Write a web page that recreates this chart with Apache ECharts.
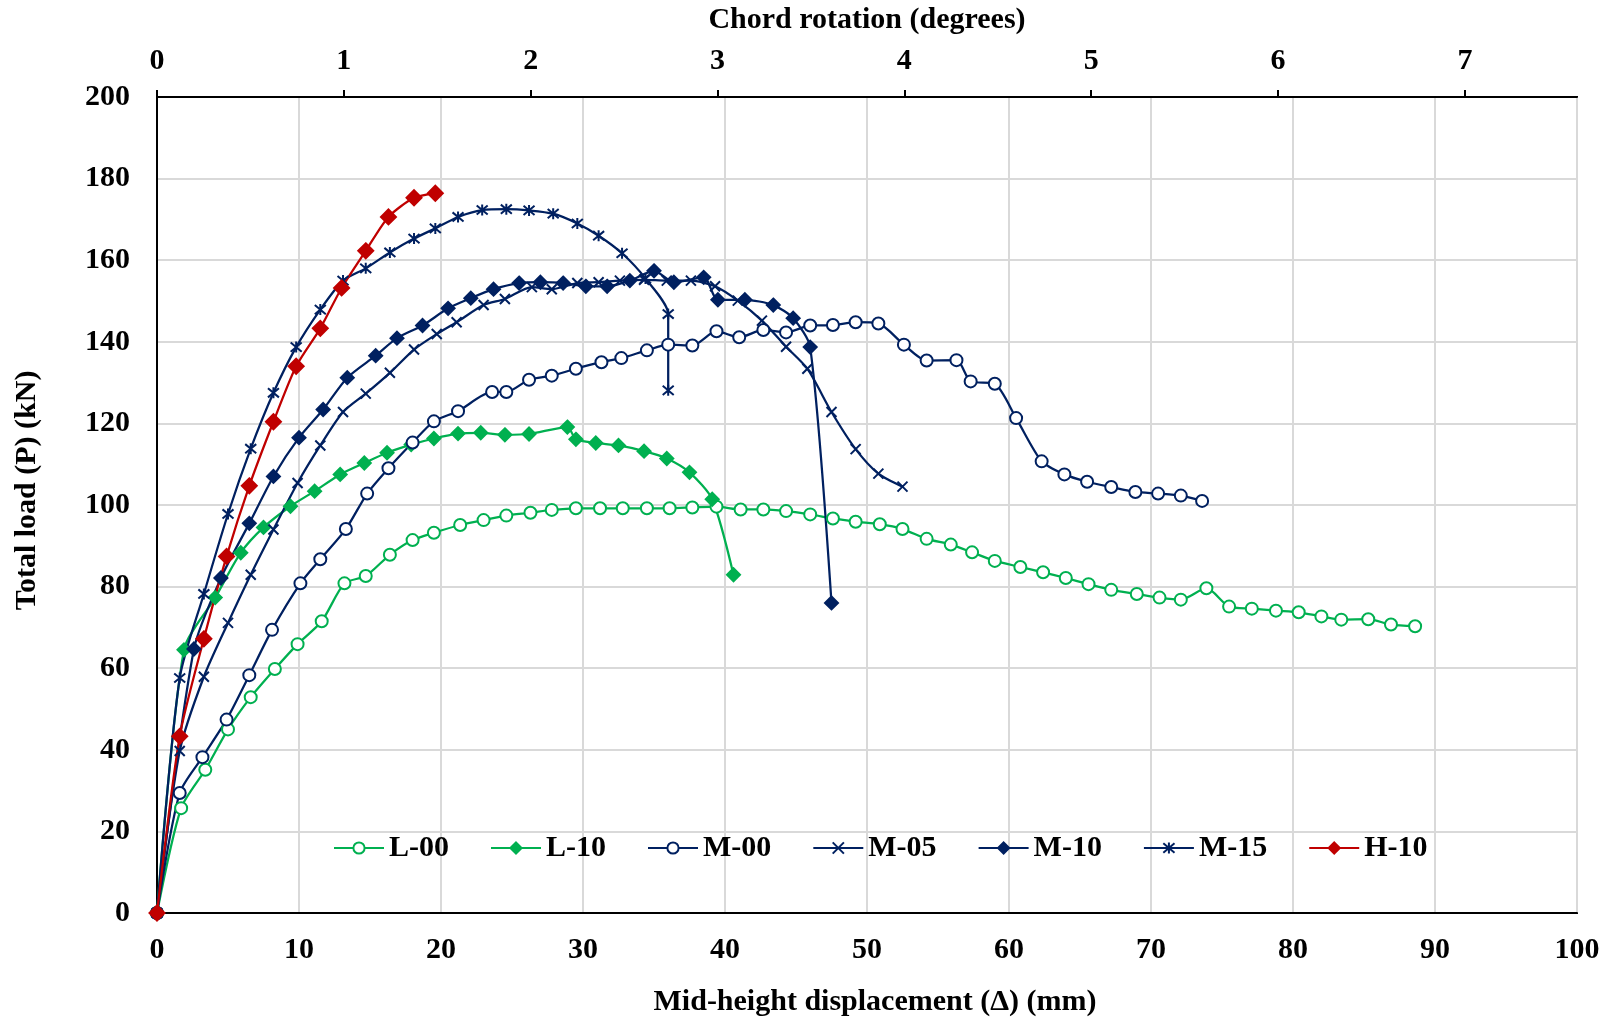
<!DOCTYPE html>
<html>
<head>
<meta charset="utf-8">
<script src="https://cdn.jsdelivr.net/npm/echarts@6/dist/echarts.min.js"></script>
<style>
html,body{margin:0;padding:0;background:#fff;}
#chart{width:1608px;height:1022px;}
</style>
</head>
<body>
<div id="chart"></div>
<script>
// ---- data: [mid-height displacement (mm), total load (kN)] ----
const L00 = [[0,0],[1.7,25.7],[3.4,35.1],[5.0,45.0],[6.6,52.9],[8.3,59.8],[9.9,65.9],[11.6,71.5],[13.2,80.8],[14.7,82.6],[16.4,87.8],[18.0,91.4],[19.5,93.2],[21.35,95.1],[23.0,96.3],[24.6,97.4],[26.3,98.1],[27.8,98.8],[29.5,99.2],[31.2,99.2],[32.8,99.2],[34.5,99.2],[36.1,99.2],[37.7,99.4],[39.4,99.6],[41.1,98.9],[42.7,98.9],[44.3,98.5],[46.0,97.7],[47.6,96.7],[49.2,95.9],[50.9,95.3],[52.5,94.1],[54.2,91.7],[55.9,90.3],[57.4,88.4],[59.0,86.3],[60.8,84.8],[62.4,83.5],[64.0,82.1],[65.6,80.6],[67.2,79.2],[69.0,78.2],[70.6,77.3],[72.1,76.8],[73.9,79.6],[75.5,75.1],[77.1,74.6],[78.8,74.1],[80.4,73.7],[82.0,72.7],[83.4,71.9],[85.3,72.0],[86.9,70.7],[88.6,70.3]];
const L10 = [[0,0],[1.9,64.5],[4.1,77.3],[5.9,88.3],[7.5,94.5],[9.4,99.7],[11.1,103.4],[12.9,107.5],[14.6,110.3],[16.2,112.8],[17.9,114.8],[19.5,116.3],[21.2,117.5],[22.8,117.7],[24.5,117.2],[26.2,117.4],[28.9,119.1],[29.5,116.1],[30.9,115.2],[32.5,114.6],[34.3,113.2],[35.9,111.4],[37.5,108.0],[39.1,101.4],[40.6,82.9]];
const M00 = [[0,0],[1.6,29.4],[3.2,38.2],[4.9,47.4],[6.5,58.3],[8.1,69.4],[10.1,80.8],[11.5,86.7],[13.3,94.1],[14.8,102.8],[16.3,109.0],[18.0,115.3],[19.5,120.5],[21.2,123.0],[23.6,127.7],[24.6,127.7],[26.2,130.7],[27.8,131.7],[29.5,133.4],[31.3,135.0],[32.7,136.0],[34.5,137.9],[36.0,139.3],[37.7,139.1],[39.4,142.6],[41.0,141.1],[42.7,142.9],[44.3,142.3],[46.0,144.0],[47.6,144.1],[49.2,144.8],[50.8,144.5],[52.6,139.3],[54.2,135.4],[56.3,135.5],[57.3,130.3],[59.0,129.7],[60.5,121.3],[62.3,110.7],[63.9,107.5],[65.5,105.7],[67.2,104.4],[68.9,103.2],[70.5,102.8],[72.1,102.3],[73.6,101.0]];
const M05 = [[0,0],[1.6,39.7],[3.3,57.9],[5.0,71.1],[6.6,82.9],[8.2,94.0],[9.9,105.4],[11.5,114.6],[13.1,122.8],[14.7,127.3],[16.4,132.4],[18.1,138.1],[19.7,141.9],[21.1,144.8],[23.0,149.0],[24.5,150.5],[26.4,153.4],[27.8,152.9],[29.6,154.4],[31.1,154.6],[32.6,155.0],[34.3,155.2],[35.9,155.0],[37.6,155.0],[39.3,153.6],[40.9,150.1],[42.6,145.2],[44.3,138.8],[45.8,133.4],[47.5,122.8],[49.2,113.7],[50.8,107.7],[52.5,104.5]];
const M10 = [[0,0],[2.6,64.7],[4.5,82.1],[6.5,95.5],[8.2,107.0],[10.0,116.5],[11.7,123.4],[13.4,131.2],[15.4,136.6],[16.9,140.9],[18.7,144.0],[20.5,148.2],[22.1,150.7],[23.7,152.9],[25.5,154.4],[27.0,154.6],[28.6,154.4],[30.2,153.6],[31.7,153.6],[33.3,155.0],[35.0,157.4],[36.4,154.6],[38.5,155.8],[39.5,150.3],[41.4,150.3],[43.4,149.0],[44.8,145.8],[46.0,138.7],[47.5,76.0]];
const M15 = [[0,0],[1.6,57.6],[3.3,78.2],[5.0,97.8],[6.6,113.8],[8.2,127.5],[9.8,138.7],[11.5,147.9],[13.1,155.0],[14.7,158.0],[16.4,161.9],[18.1,165.3],[19.6,167.8],[21.2,170.6],[22.9,172.3],[24.6,172.5],[26.2,172.2],[27.9,171.4],[29.6,169.0],[31.1,166.0],[32.75,161.7],[34.4,155.5],[36.0,146.8],[36.0,128.1]];
const H10 = [[0,0],[1.6,43.3],[3.3,67.2],[4.9,87.4],[6.5,104.7],[8.2,120.4],[9.8,134.0],[11.5,143.3],[13.0,153.2],[14.7,162.3],[16.3,170.6],[18.1,175.3],[19.6,176.4]];

const seriesNames = ['L-00','L-10','M-00','M-05','M-10','M-15','H-10'];
const xTicksMm = {min:0, max:100, interval:10};
const yTicksKn = {min:0, max:200, interval:20};
const topTicksDeg = {min:0, max:7.6, interval:1};

const GREEN = '#00B050', NAVY = '#002060', RED = '#C00000';
const FONT = "'Liberation Serif','Times New Roman',serif";
const CROSS = 'path://M0,0L10,10M10,0L0,10';
const STAR = 'path://M0,0L10,10M10,0L0,10M5,-1L5,11';

function mk(name, data, color, symbol, size, extra) {
  return {
    name: name, type: 'line', data: data, xAxisIndex: 0, yAxisIndex: 0,
    symbol: symbol, symbolSize: size, smooth: 0.25,
    lineStyle: {color: color, width: 2.25},
    itemStyle: Object.assign({color: color, borderColor: color, borderWidth: 2}, extra || {}),
    emphasis: {disabled: true}
  };
}

const chart = echarts.init(document.getElementById('chart'), null, {renderer: 'canvas'});
const labelStyle = {fontFamily: FONT, fontWeight: 'bold', fontSize: 30, color: '#000'};
chart.setOption({
  animation: false,
  backgroundColor: '#fff',
  grid: {left: 157, right: 31, top: 97, bottom: 106, show: true, borderColor: '#000', borderWidth: 2, backgroundColor: 'transparent'},
  legend: {
    data: seriesNames, left: 333, top: 833, padding: 0,
    itemWidth: 50, itemHeight: 14, itemGap: 41,
    textStyle: {fontFamily: FONT, fontWeight: 'bold', fontSize: 30, color: '#000'}
  },
  xAxis: [
    {
      type: 'value', position: 'bottom', min: xTicksMm.min, max: xTicksMm.max, interval: xTicksMm.interval,
      name: 'Mid-height displacement (Δ) (mm)', nameLocation: 'middle', nameGap: 74,
      nameTextStyle: Object.assign({padding: [0, 0, 0, 16]}, labelStyle),
      axisLine: {onZero: false, lineStyle: {color: '#000', width: 2}},
      axisTick: {show: false},
      axisLabel: Object.assign({margin: 22}, labelStyle),
      splitLine: {show: true, lineStyle: {color: '#d9d9d9', width: 2}}
    },
    {
      type: 'value', position: 'top', min: topTicksDeg.min, max: topTicksDeg.max, interval: topTicksDeg.interval,
      name: 'Chord rotation (degrees)', nameLocation: 'middle', nameGap: 62,
      nameTextStyle: labelStyle,
      axisLine: {onZero: false, lineStyle: {color: '#000', width: 2}},
      axisTick: {show: true, inside: false, length: 7, lineStyle: {color: '#000', width: 2}},
      axisLabel: Object.assign({margin: 21, showMaxLabel: false}, labelStyle),
      splitLine: {show: false}
    }
  ],
  yAxis: {
    type: 'value', min: yTicksKn.min, max: yTicksKn.max, interval: yTicksKn.interval,
    name: 'Total load (P) (kN)', nameLocation: 'middle', nameGap: 115,
    nameTextStyle: Object.assign({padding: [0, 0, 0, 29]}, labelStyle),
    axisLine: {show: true, onZero: false, lineStyle: {color: '#000', width: 2}},
    axisTick: {show: false},
    axisLabel: Object.assign({margin: 27}, labelStyle),
    splitLine: {show: true, lineStyle: {color: '#d9d9d9', width: 2}}
  },
  series: [
    mk('L-00', L00, GREEN, 'emptyCircle', 12),
    mk('L-10', L10, GREEN, 'diamond', 13),
    mk('M-00', M00, NAVY, 'emptyCircle', 12),
    mk('M-05', M05, NAVY, CROSS, 10),
    mk('M-10', M10, NAVY, 'diamond', 13),
    mk('M-15', M15, NAVY, STAR, 11),
    mk('H-10', H10, RED, 'diamond', 15)
  ]
});
</script>
</body>
</html>
